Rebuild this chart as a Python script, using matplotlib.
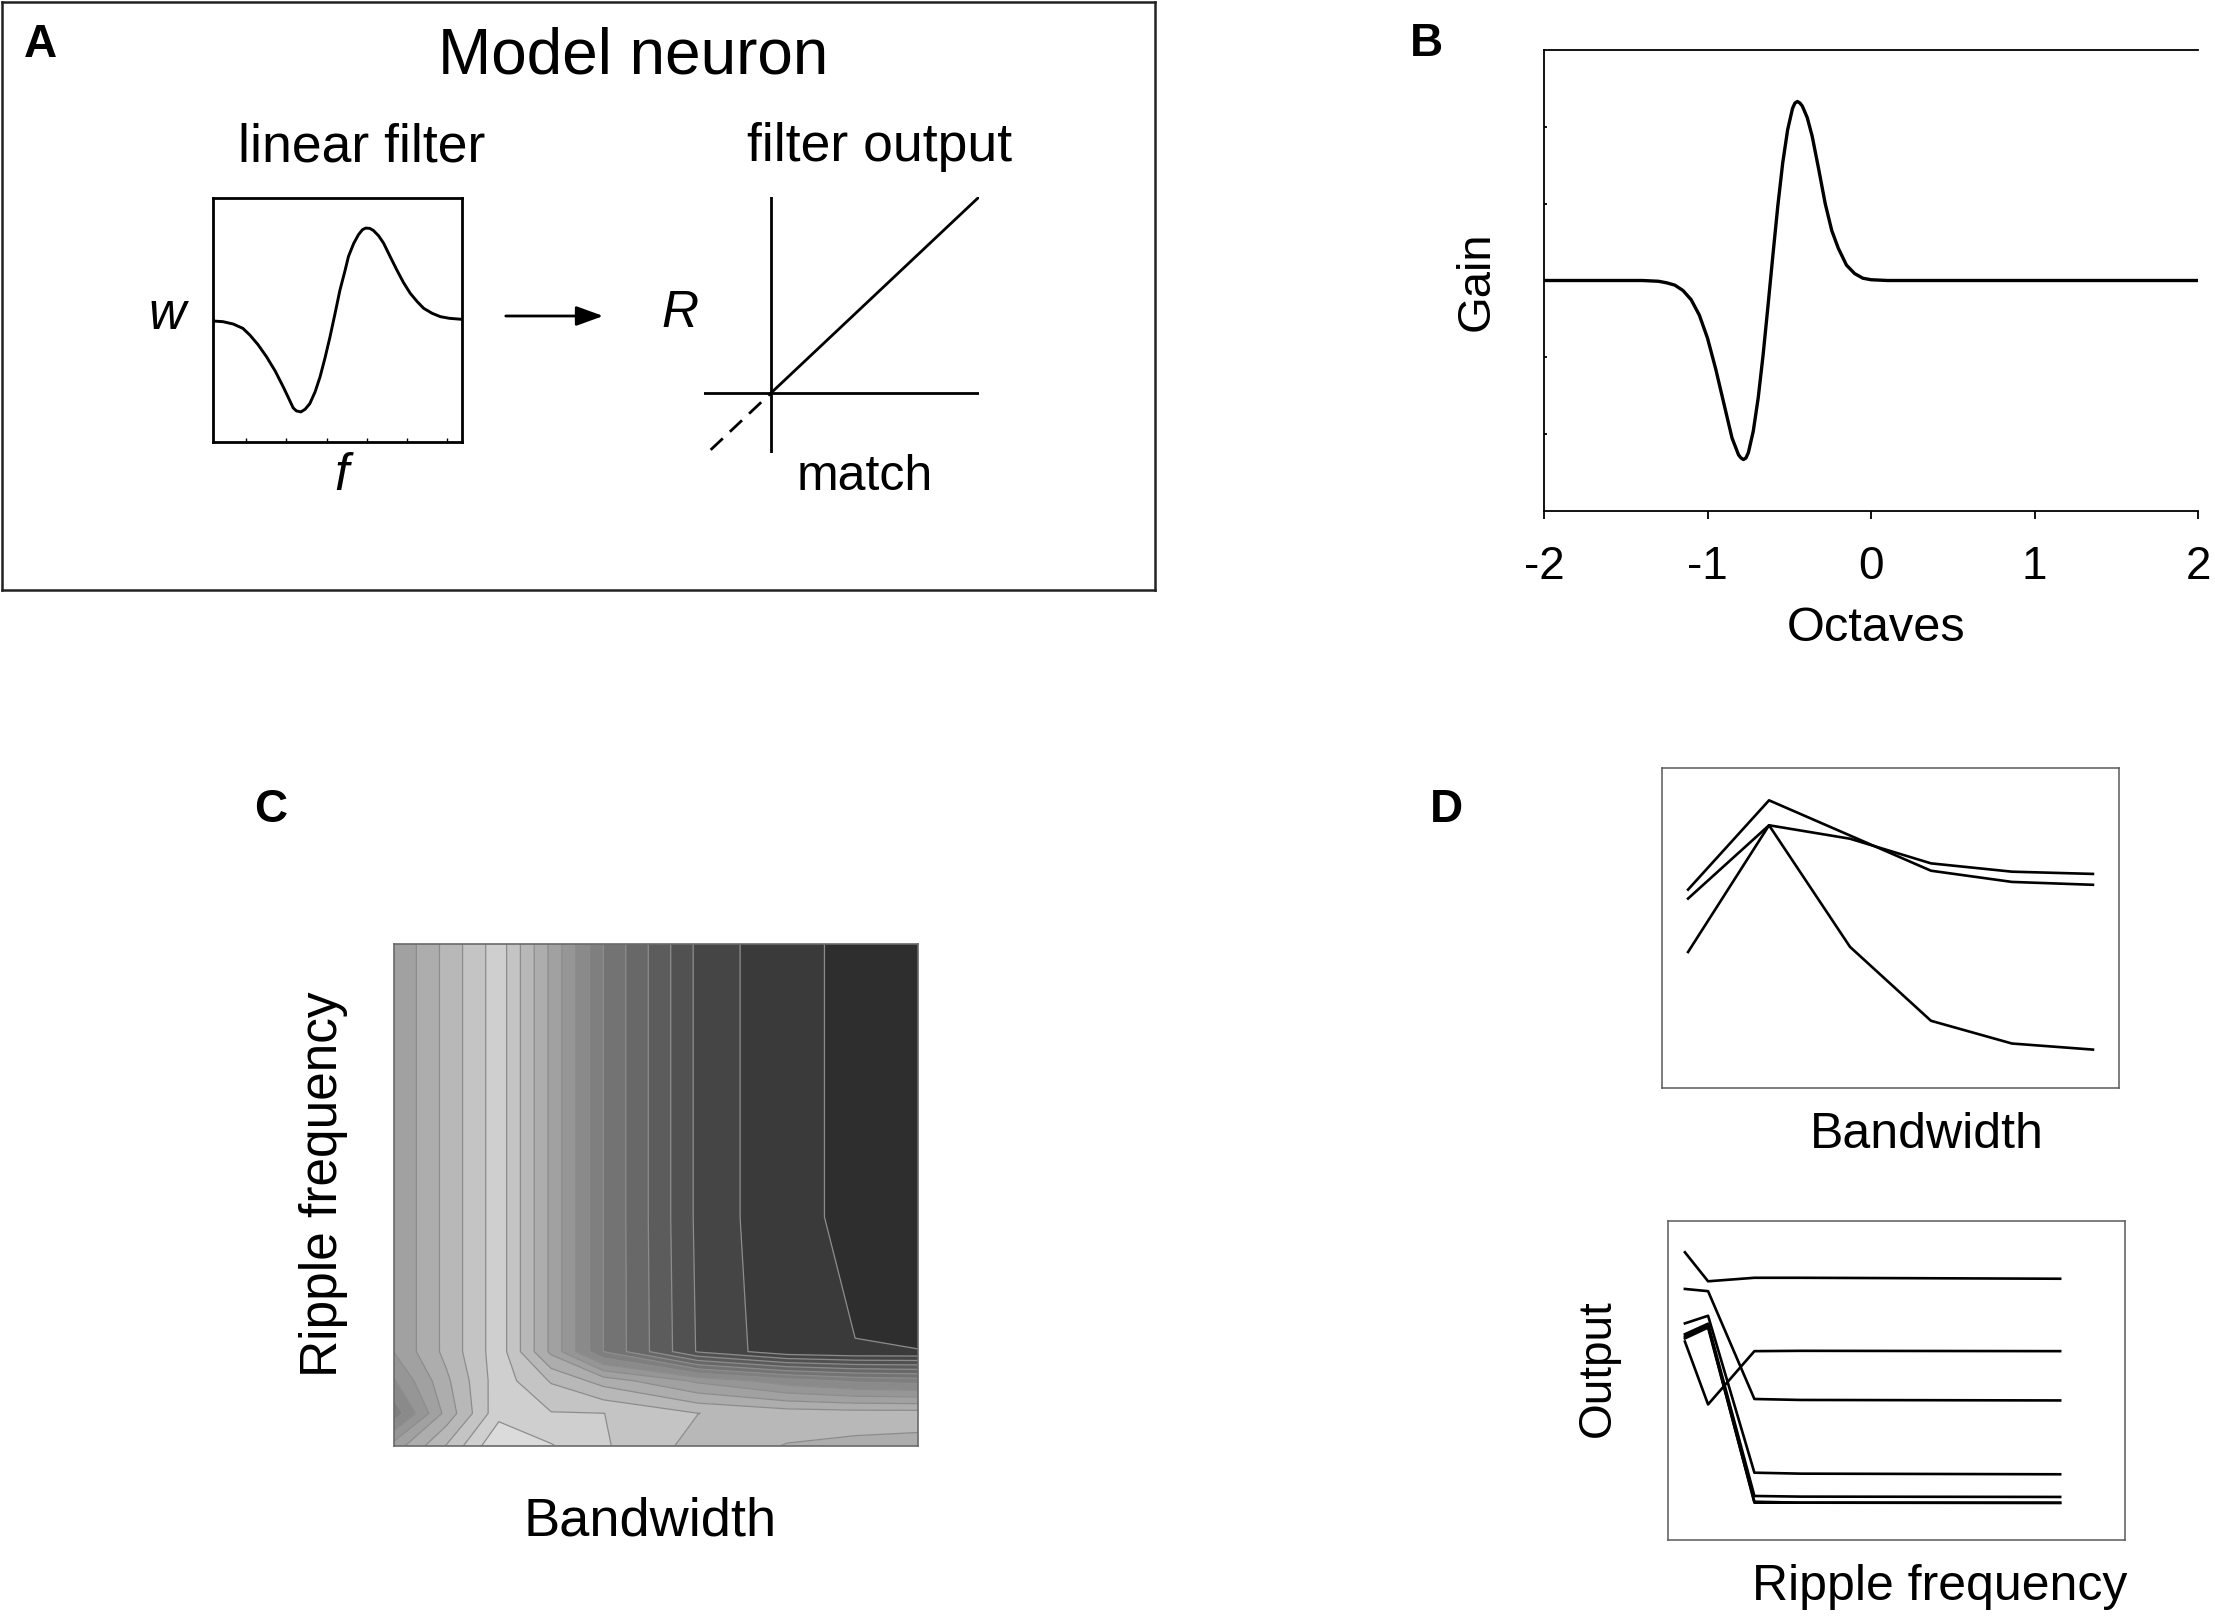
import numpy as np
import matplotlib
matplotlib.use("Agg")
import matplotlib.pyplot as plt

plt.rcParams['font.family'] = ['Liberation Sans', 'DejaVu Sans']
plt.rcParams['axes.unicode_minus'] = False

W, H = 2215, 1622

# ---- A: linear filter (relative frequency, weight) ----
filt_f = [0, 0.04, 0.081, 0.12, 0.148, 0.18, 0.215, 0.25, 0.282, 0.30, 0.322,
          0.335, 0.353, 0.37, 0.389, 0.41, 0.43, 0.45, 0.47, 0.49, 0.51, 0.53,
          0.544, 0.565, 0.584, 0.60, 0.613, 0.63, 0.644, 0.665, 0.685, 0.71,
          0.738, 0.765, 0.792, 0.82, 0.846, 0.88, 0.913, 0.95, 1.0]
filt_w = [0, -0.02, -0.09, -0.22, -0.42, -0.7, -1.07, -1.5, -1.97, -2.25, -2.6,
          -2.69, -2.72, -2.64, -2.47, -2.12, -1.67, -1.1, -0.47, 0.22, 0.93, 1.5,
          1.93, 2.32, 2.58, 2.73, 2.78, 2.77, 2.71, 2.55, 2.33, 1.95,
          1.53, 1.15, 0.83, 0.58, 0.38, 0.23, 0.13, 0.08, 0.05]

# ---- A: filter output (match -> R) ----
match_pos = [0, 1]
resp_pos = [0, 1]
match_neg = [-0.29, 0]
resp_neg = [-0.29, 0]

# ---- B: gain vs octaves ----
oct_x = [-2.0, -1.4, -1.3, -1.25, -1.2, -1.15, -1.1, -1.05, -1.0, -0.95, -0.9,
         -0.85, -0.81, -0.795, -0.78, -0.765, -0.75, -0.72, -0.69, -0.66, -0.63,
         -0.6, -0.57, -0.54, -0.51, -0.48, -0.465, -0.45, -0.435, -0.42, -0.39,
         -0.36, -0.32, -0.28, -0.24, -0.2, -0.15, -0.1, -0.05, 0.0, 0.1, 2.0]
gain = [0, 0, -0.01, -0.03, -0.06, -0.13, -0.25, -0.45, -0.75, -1.15, -1.6,
        -2.05, -2.27, -2.31, -2.33, -2.31, -2.24, -1.96, -1.53, -0.97, -0.33,
        0.33, 0.97, 1.53, 1.96, 2.24, 2.31, 2.33, 2.31, 2.27, 2.12,
        1.88, 1.45, 1.0, 0.65, 0.42, 0.2, 0.09, 0.03, 0.01, 0, 0]
oct_ticks = [-2, -1, 0, 1, 2]
gain_ticks = [-2, -1, 0, 1, 2]

# ---- C: response surface (bandwidth x ripple frequency) ----
bw_grid = [0, 0.1, 0.2, 0.3, 0.4, 0.58, 0.75, 0.88, 1.0]
rip_grid = [0, 0.065, 0.13, 0.188, 0.456, 1.0]
resp_grid = [
    [0.63, 0.748, 0.877, 0.838, 0.795, 0.728, 0.697, 0.69, 0.685],
    [0.49, 0.67, 0.82, 0.792, 0.79, 0.745, 0.725, 0.72, 0.72],
    [0.56, 0.69, 0.815, 0.74, 0.68, 0.6, 0.54, 0.51, 0.5],
    [0.611, 0.713, 0.815, 0.644, 0.474, 0.29, 0.218, 0.205, 0.2048],
    [0.611, 0.713, 0.815, 0.644, 0.474, 0.285, 0.21, 0.20, 0.19],
    [0.611, 0.713, 0.815, 0.644, 0.474, 0.285, 0.21, 0.20, 0.19],
]
c_levels = [0.1595 + 0.045 * k for k in range(18)]

# ---- D top: output vs bandwidth ----
bw_pos = [1, 2, 3, 4, 5, 6]
bw_out_a = [0.620, 0.899, 0.789, 0.679, 0.644, 0.635]
bw_out_b = [0.592, 0.821, 0.779, 0.702, 0.676, 0.669]
bw_out_c = [0.425, 0.821, 0.441, 0.210, 0.139, 0.120]

# ---- D bottom: output vs ripple frequency ----
rip_pos = [0.5, 1, 2, 3, 8.6]
rip_out = [
    [0.902, 0.811, 0.822, 0.822, 0.819],
    [0.787, 0.780, 0.442, 0.439, 0.4375],
    [0.622, 0.425, 0.592, 0.593, 0.592],
    [0.679, 0.703, 0.211, 0.208, 0.206],
    [0.645, 0.678, 0.138, 0.136, 0.135],
    [0.638, 0.671, 0.117, 0.117, 0.117],
    [0.632, 0.666, 0.120, 0.117, 0.116],
]


def box(x0, y0, x1, y1):
    return [x0 / W, 1 - y1 / H, (x1 - x0) / W, (y1 - y0) / H]


def put(x, y, s, **kw):
    fig.text(x / W, 1 - y / H, s, **kw)


fig = plt.figure(figsize=(W / 100, H / 100), dpi=100)

# ---------------- panel A ----------------
frame = fig.add_axes(box(2, 2, 1155, 590))
frame.set_xticks([])
frame.set_yticks([])
frame.patch.set_alpha(0)
for s in frame.spines.values():
    s.set_linewidth(1.8)
    s.set_color('#222222')

put(24, 57, 'A', fontsize=33, fontweight='bold')
put(633, 74, 'Model neuron', fontsize=46, ha='center', va='baseline')
put(362, 161, 'linear filter', fontsize=38.5, ha='center', va='baseline')
put(880, 161, 'filter output', fontsize=38.5, ha='center', va='baseline')

axf = fig.add_axes(box(213, 198, 462, 442))
axf.plot(filt_f, filt_w, color='black', lw=2.1)
axf.set_xlim(0, 1)
axf.set_ylim(-3.62, 3.68)
axf.set_yticks([])
axf.set_xticks([0.134, 0.295, 0.456, 0.617, 0.778, 0.94])
axf.tick_params(axis='x', direction='in', length=3, width=1, labelbottom=False)
for s in axf.spines.values():
    s.set_linewidth(2)
put(167, 329, 'w', fontsize=37, style='italic', ha='center', va='baseline')
put(341, 490, 'f', fontsize=37, style='italic', ha='center', va='baseline')

fig.add_artist(matplotlib.patches.FancyArrowPatch(
    (503 / W, 1 - 316 / H), (606 / W, 1 - 316 / H), transform=fig.transFigure,
    arrowstyle='-|>,head_length=0.55,head_width=0.2', mutation_scale=30,
    lw=2, color='black'))

axo = fig.add_axes(box(704, 197, 979, 453))
axo.axhline(0, color='black', lw=2)
axo.axvline(0, color='black', lw=2)
axo.plot(match_pos, resp_pos, color='black', lw=2)
axo.plot(match_neg, resp_neg, color='black', lw=2, dashes=(6, 3.5))
axo.set_xlim(-0.322, 1.0)
axo.set_ylim(-0.306, 1.0)
axo.axis('off')
put(680, 327, 'R', fontsize=37, style='italic', ha='center', va='baseline')
put(865, 490, 'match', fontsize=36, ha='center', va='baseline')

# ---------------- panel B ----------------
axb = fig.add_axes(box(1544, 50, 2198, 511))
axb.plot(oct_x, gain, color='black', lw=2.4)
axb.set_xlim(-2, 2)
axb.set_ylim(-3, 3)
axb.set_xticks(oct_ticks)
axb.set_xticklabels([str(t) for t in oct_ticks])
axb.set_yticks(gain_ticks)
axb.set_yticklabels([])
axb.tick_params(axis='x', direction='out', length=5.4, width=1.3, labelsize=33, pad=19)
axb.tick_params(axis='y', direction='in', length=2, width=1.3)
axb.spines['right'].set_visible(False)
for s in ['left', 'top', 'bottom']:
    axb.spines[s].set_linewidth(1.3)
put(1410, 56, 'B', fontsize=33, fontweight='bold')
put(1876, 641, 'Octaves', fontsize=35, ha='center', va='baseline')
put(1477, 281, 'Gain', fontsize=34, rotation=90, ha='center', va='center')

# ---------------- panel C ----------------
axc = fig.add_axes(box(394, 944, 918, 1446))
axc.contourf(bw_grid, rip_grid, resp_grid, levels=c_levels, cmap='gray', vmin=0, vmax=1)
axc.contour(bw_grid, rip_grid, resp_grid, levels=c_levels, colors='#8c8c8c', linewidths=0.9)
axc.set_xlim(0, 1)
axc.set_ylim(0, 1)
axc.set_xticks([])
axc.set_yticks([])
for s in axc.spines.values():
    s.set_color('#6a6a6a')
    s.set_linewidth(1.2)
put(254, 822, 'C', fontsize=33, fontweight='bold')
put(650, 1535, 'Bandwidth', fontsize=39, ha='center', va='baseline')
put(323, 1184, 'Ripple frequency', fontsize=37, rotation=90, ha='center', va='center')

# ---------------- panel D ----------------
axd1 = fig.add_axes(box(1662, 768, 2119, 1088))
for ys in (bw_out_a, bw_out_b, bw_out_c):
    axd1.plot(bw_pos, ys, color='black', lw=1.9)
axd1.set_xlim(0.678, 6.322)
axd1.set_ylim(0, 1)
axd1.set_xticks([])
axd1.set_yticks([])
for s in axd1.spines.values():
    s.set_color('#5a5a5a')
    s.set_linewidth(1.1)
put(1430, 822, 'D', fontsize=33, fontweight='bold')
put(1927, 1148, 'Bandwidth', fontsize=36, ha='center', va='baseline')

axd2 = fig.add_axes(box(1668, 1221, 2125, 1540))
for ys in rip_out:
    axd2.plot(rip_pos, ys, color='black', lw=1.9)
axd2.set_xlim(0.135, 10.0)
axd2.set_ylim(0, 1)
axd2.set_xticks([])
axd2.set_yticks([])
for s in axd2.spines.values():
    s.set_color('#5a5a5a')
    s.set_linewidth(1.1)
put(1940, 1600, 'Ripple frequency', fontsize=36, ha='center', va='baseline')
put(1598, 1368, 'Output', fontsize=33, rotation=90, ha='center', va='center')

fig.savefig('out.png', dpi=100)
